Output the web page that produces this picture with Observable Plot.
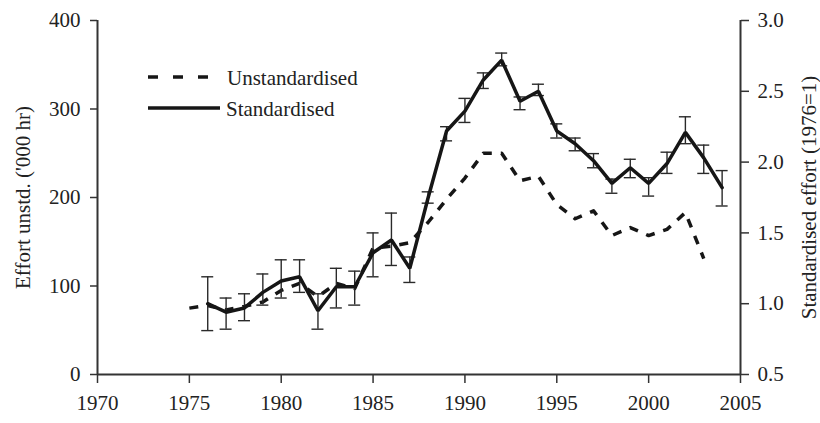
<!DOCTYPE html>
<html><head><meta charset="utf-8">
<script src="https://cdn.jsdelivr.net/npm/d3@7"></script>
<script src="https://cdn.jsdelivr.net/npm/@observablehq/plot@0.6"></script>
<style>
body{margin:0;background:#fff;}
#wrap{position:relative;width:820px;height:423px;}
#wrap svg{display:block;}
</style></head><body><div id="wrap"></div>
<script>
// Unstandardised effort ('000 hr), left axis
const unstdYears = [1975,1976,1977,1978,1979,1980,1981,1982,1983,1984,1985,1986,1987,1988,1989,1990,1991,1992,1993,1994,1995,1996,1997,1998,1999,2000,2001,2002,2003];
const unstdValues = [75,78,73,77,82,95,103,88,103,97,143,145,149,172,198,222,250,250,219,224,192,176,185,157,166,157,164,183,131];

// Standardised effort (1976=1), right axis
const stdYears = [1976,1977,1978,1979,1980,1981,1982,1983,1984,1985,1986,1987,1988,1989,1990,1991,1992,1993,1994,1995,1996,1997,1998,1999,2000,2001,2002,2003,2004];
const stdMean = [1.00,0.94,0.97,1.08,1.16,1.19,0.95,1.12,1.12,1.36,1.45,1.25,1.75,2.22,2.36,2.58,2.72,2.43,2.50,2.22,2.13,2.01,1.85,1.96,1.85,1.99,2.21,2.03,1.82];
const stdLo   = [0.81,0.82,0.88,0.99,1.04,1.08,0.82,0.97,0.99,1.19,1.27,1.15,1.71,2.15,2.28,2.52,2.68,2.37,2.47,2.17,2.08,1.96,1.78,1.89,1.76,1.92,2.13,1.92,1.69];
const stdHi   = [1.19,1.04,1.07,1.21,1.31,1.31,1.07,1.25,1.23,1.50,1.64,1.33,1.79,2.25,2.45,2.63,2.77,2.46,2.55,2.27,2.17,2.06,1.88,2.02,1.89,2.07,2.32,2.12,1.94];

const xTicks = [1970,1975,1980,1985,1990,1995,2000,2005];
const leftTicks = [0,100,200,300,400];
const rightTicks = [0.5,1.0,1.5,2.0,2.5,3.0];
const leftTitle = "Effort unstd. ('000 hr)";
const rightTitle = "Standardised effort (1976=1)";
const legendLabels = ["Unstandardised","Standardised"];

// dual-axis mapping: right 0.5..3.0 <-> left 0..400
const toLeft = r => (r - 0.5) * 160;
const toRight = l => l / 160 + 0.5;

const unstd = unstdYears.map((y, i) => ({year: y, value: unstdValues[i]}));
const std = stdYears.map((y, i) => ({year: y, mean: toLeft(stdMean[i]), lo: toLeft(stdLo[i]), hi: toLeft(stdHi[i])}));

const ink = "#161616";
const axisInk = "#333";
const font = "'Liberation Serif', 'Times New Roman', serif";

const chart = Plot.plot({
  width: 820, height: 423,
  marginLeft: 97, marginRight: 80, marginTop: 20, marginBottom: 49,
  style: {fontFamily: font, fontSize: "21px", color: "#222", background: "#fff"},
  x: {domain: [1970, 2005]},
  y: {domain: [0, 400]},
  marks: [
    Plot.axisX({ticks: xTicks, tickFormat: d => String(d), tickSize: 9, tickPadding: 12, label: null, stroke: axisInk, strokeWidth: 1.5}),
    Plot.axisY({ticks: leftTicks, anchor: "left", tickFormat: d => String(d), tickSize: 7, tickPadding: 10, label: null, stroke: axisInk, strokeWidth: 1.5}),
    Plot.axisY({ticks: rightTicks.map(toLeft), anchor: "right", tickFormat: d => toRight(d).toFixed(1), tickSize: 8, tickPadding: 9, label: null, stroke: axisInk, strokeWidth: 1.5}),
    Plot.ruleX([1970, 2005], {stroke: axisInk, strokeWidth: 2}),
    Plot.ruleY([0], {stroke: axisInk, strokeWidth: 2}),
    Plot.line(unstd, {x: "year", y: "value", stroke: ink, strokeWidth: 3.5, strokeDasharray: "9,9", strokeLinecap: "butt"}),
    Plot.ruleX(std, {x: "year", y1: "lo", y2: "hi", stroke: "#2a2a2a", strokeWidth: 1.4}),
    Plot.ruleY(std, {y: "hi", x1: "year", x2: "year", insetLeft: -6, insetRight: -6, stroke: "#2a2a2a", strokeWidth: 1.4}),
    Plot.ruleY(std, {y: "lo", x1: "year", x2: "year", insetLeft: -6, insetRight: -6, stroke: "#2a2a2a", strokeWidth: 1.4}),
    Plot.line(std, {x: "year", y: "mean", stroke: ink, strokeWidth: 3.5, strokeLinejoin: "miter"}),
    Plot.text([leftTitle], {text: d => d, frameAnchor: "left", textAnchor: "middle", lineAnchor: "middle", dx: -74, rotate: -90, fontSize: 21, fill: "#222"}),
    Plot.text([rightTitle], {text: d => d, frameAnchor: "right", textAnchor: "middle", lineAnchor: "middle", dx: 69, rotate: -90, fontSize: 21, fill: "#222"})
  ]
});
document.getElementById("wrap").appendChild(chart);

// Legend overlay
const leg = d3.select("#wrap").append("svg")
  .attr("width", 260).attr("height", 70)
  .style("position", "absolute").style("left", "140px").style("top", "60px");
const items = legendLabels.map((label, i) => ({label, dash: i === 0}));
items.forEach((it, i) => {
  const cy = 17 + i * 31;
  leg.append("line")
    .attr("x1", 8).attr("x2", it.dash ? 68 : 80)
    .attr("y1", cy).attr("y2", cy)
    .attr("stroke", ink).attr("stroke-width", 3.5)
    .attr("stroke-dasharray", it.dash ? "10,15" : null);
  leg.append("text")
    .attr("x", it.dash ? 87 : 86).attr("y", cy + 8)
    .attr("font-family", font).attr("font-size", 21).attr("fill", "#222")
    .text(it.label);
});
</script>
</body></html>
